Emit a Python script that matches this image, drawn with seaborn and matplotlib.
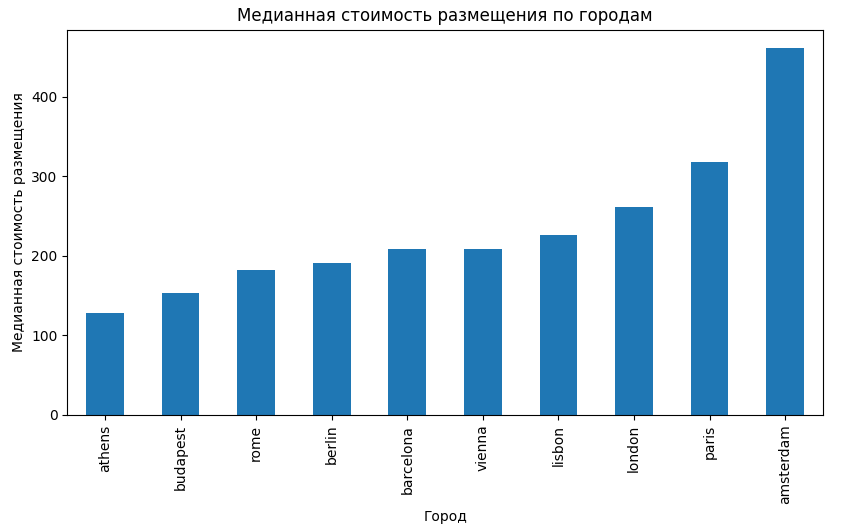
import matplotlib
matplotlib.use("Agg")
import matplotlib.pyplot as plt
import seaborn as sns
import pandas as pd

cities = ['athens', 'budapest', 'rome', 'berlin', 'barcelona',
          'vienna', 'lisbon', 'london', 'paris', 'amsterdam']
median_price = [128, 153, 182, 191, 208, 208, 226, 261, 318, 461]

df = pd.DataFrame({'city': cities, 'price': median_price})

fig, ax = plt.subplots(figsize=(8.51, 5.32), dpi=100)
sns.barplot(data=df, x='city', y='price', color='#1f77b4', saturation=1,
            width=0.5, ax=ax)
ax.set_title('Медианная стоимость размещения по городам')
ax.set_xlabel('Город')
ax.set_ylabel('Медианная стоимость размещения')
ax.tick_params(axis='x', rotation=90)
ax.set_xlim(-0.5, len(cities) - 0.5)
ax.set_ylim(0, 484)
plt.subplots_adjust(left=0.079, right=0.967, top=0.944, bottom=0.22)
fig.savefig('out.png')
